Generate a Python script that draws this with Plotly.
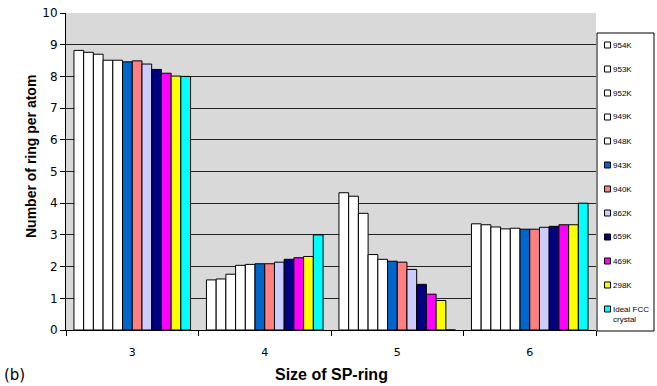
import plotly.graph_objects as go

categories = ["3", "4", "5", "6"]
series_names = ["954K", "953K", "952K", "949K", "948K", "943K", "940K",
                "862K", "659K", "469K", "298K", "Ideal FCC<br>crystal"]
values = [
    [8.82, 1.58, 4.33, 3.35],
    [8.76, 1.61, 4.22, 3.32],
    [8.70, 1.76, 3.68, 3.25],
    [8.51, 2.04, 2.38, 3.19],
    [8.51, 2.07, 2.23, 3.21],
    [8.46, 2.09, 2.17, 3.18],
    [8.49, 2.09, 2.14, 3.18],
    [8.39, 2.14, 1.91, 3.24],
    [8.22, 2.23, 1.44, 3.27],
    [8.10, 2.28, 1.13, 3.32],
    [8.01, 2.32, 0.93, 3.32],
    [8.00, 3.00, 0.00, 4.00],
]
colors = ["#ffffff", "#ffffff", "#ffffff", "#ffffff", "#ffffff", "#0066cc",
          "#ff8080", "#ccccff", "#000080", "#ff00ff", "#ffff00", "#00ffff"]

W, H = 657, 386
ML, MR, MT, MB = 66, 61, 13, 56
PW, PH = W - ML - MR, H - MT - MB


def px(x):
    return (x - ML) / PW


def py(y):
    return (H - MB - y) / PH


fig = go.Figure()
for i, (name, vals, col) in enumerate(zip(series_names, values, colors)):
    fig.add_trace(go.Bar(
        x=categories, y=vals, name=name, showlegend=False,
        marker=dict(color=col, line=dict(color="#000000", width=1)),
    ))

shapes = [dict(type="rect", xref="paper", yref="paper",
               x0=px(597), x1=px(654), y0=py(331), y1=py(33),
               line=dict(color="black", width=1), fillcolor="white", layer="above")]
annotations = []
for i, (name, col) in enumerate(zip(series_names, colors)):
    cy = 45 + 24 * i
    shapes.append(dict(type="rect", xref="paper", yref="paper",
                       x0=px(604.5), x1=px(610.5), y0=py(cy + 3), y1=py(cy - 3),
                       line=dict(color="black", width=1), fillcolor=col, layer="above"))
    annotations.append(dict(text=name, xref="paper", yref="paper",
                            x=px(612), y=py(cy - 5.5), xanchor="left", yanchor="top",
                            align="left", showarrow=False,
                            font=dict(size=8, family="Liberation Sans"), borderpad=0))

annotations.append(dict(text="(b)", x=px(2), y=py(386), xref="paper", yref="paper",
                        xanchor="left", yanchor="bottom", showarrow=False,
                        font=dict(size=15, family="DejaVu Sans")))
annotations.append(dict(text="<b>Number of ring per atom</b>", x=px(31), y=py(157),
                        xref="paper", yref="paper", xanchor="center", yanchor="middle",
                        textangle=-90, showarrow=False,
                        font=dict(size=14, family="Liberation Sans")))
annotations.append(dict(text="<b>Size of SP-ring</b>", x=0.5, y=py(374),
                        xref="paper", yref="paper", xanchor="center", yanchor="middle",
                        showarrow=False, font=dict(size=16, family="Liberation Sans")))

fig.update_layout(
    width=W, height=H,
    margin=dict(l=ML, r=MR, t=MT, b=MB, autoexpand=False),
    paper_bgcolor="white", plot_bgcolor="#d9d9d9",
    barmode="group", bargap=0.12, bargroupgap=0,
    font=dict(family="DejaVu Sans", size=11, color="black"),
    showlegend=False,
    shapes=shapes,
    annotations=annotations,
    xaxis=dict(
        type="category", tickson="boundaries", ticks="outside", ticklen=5,
        tickcolor="black", showline=True, linecolor="black", showgrid=False,
        tickfont=dict(size=11), ticklabelstandoff=12,
    ),
    yaxis=dict(
        range=[0, 10], dtick=1, ticks="outside", ticklen=5, tickcolor="black",
        showline=True, linecolor="black", gridcolor="#222222", gridwidth=1,
        tickfont=dict(size=12), zeroline=False,
    ),
)

fig.write_html("out.html")
